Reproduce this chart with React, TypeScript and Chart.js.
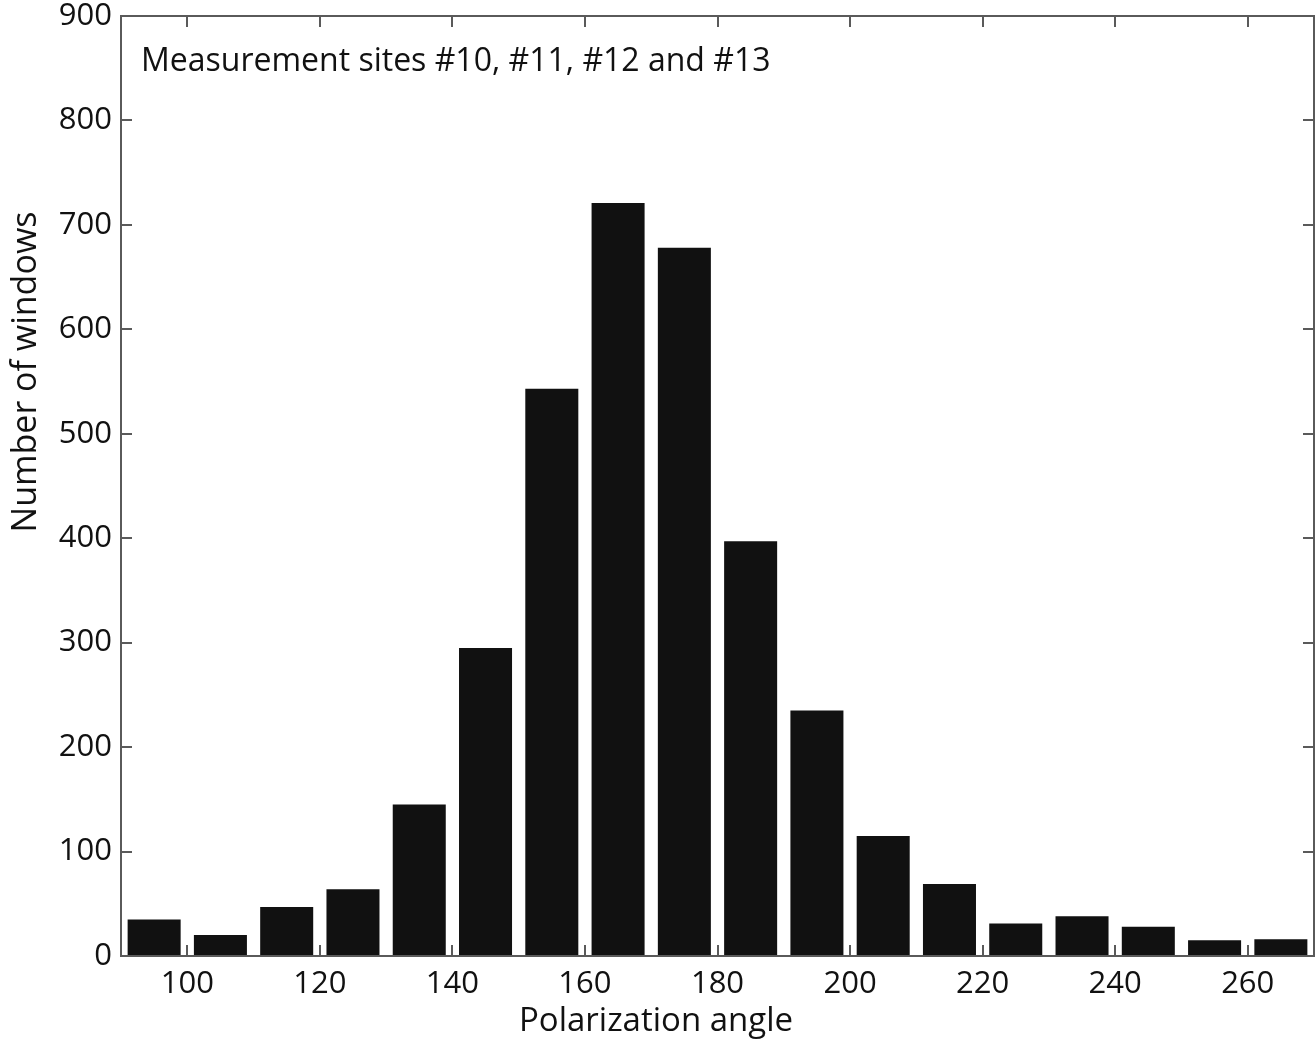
import React, { useEffect, useRef } from "react";
import { Chart, registerables } from "chart.js";

Chart.register(...registerables);

// Histogram bin centres (degrees) and counts
const binCenters = [95, 105, 115, 125, 135, 145, 155, 165, 175, 185, 195, 205, 215, 225, 235, 245, 255, 265];
const counts = [35, 20, 47, 64, 145, 295, 543, 721, 678, 397, 235, 115, 69, 31, 38, 28, 15, 16];

const xTicks = [100, 120, 140, 160, 180, 200, 220, 240, 260];
const yTicks = [0, 100, 200, 300, 400, 500, 600, 700, 800, 900];

const annotation = "Measurement sites #10, #11, #12 and #13";
const xTitle = "Polarization angle";
const yTitle = "Number of windows";

const FONT = "'Open Sans', sans-serif";
const AXIS_COLOR = "#5a5a5a";

const W = 1316;
const H = 1041;

// Box frame with inward ticks on all four sides, the in-plot note and axis titles
const framePlugin = {
  id: "frame",
  afterDraw(chart: any) {
    const { ctx, chartArea: a, scales } = chart;
    const len = 11;
    ctx.save();
    ctx.strokeStyle = AXIS_COLOR;
    ctx.lineWidth = 2;
    ctx.beginPath();
    xTicks.forEach((v) => {
      const px = Math.round(scales.x.getPixelForValue(v));
      ctx.moveTo(px, a.bottom);
      ctx.lineTo(px, a.bottom - len);
      ctx.moveTo(px, a.top);
      ctx.lineTo(px, a.top + len);
    });
    yTicks.forEach((v) => {
      const py = Math.round(scales.y.getPixelForValue(v));
      ctx.moveTo(a.left, py);
      ctx.lineTo(a.left + len, py);
      ctx.moveTo(a.right, py);
      ctx.lineTo(a.right - len, py);
    });
    ctx.stroke();
    ctx.strokeRect(a.left, a.top, a.right - a.left, a.bottom - a.top);

    ctx.fillStyle = "#111";
    ctx.font = `32px ${FONT}`;
    ctx.textBaseline = "middle";
    ctx.textAlign = "left";
    ctx.fillText(annotation, a.left + 20, a.top + 46);

    // x-axis title, centred on the figure
    ctx.font = `33px ${FONT}`;
    ctx.textAlign = "center";
    ctx.textBaseline = "alphabetic";
    ctx.fillText(xTitle, W / 2 - 2, 1031);

    // y-axis title, rotated
    ctx.font = `34px ${FONT}`;
    ctx.translate(36, 372);
    ctx.rotate(-Math.PI / 2);
    ctx.fillText(yTitle, 0, 0);
    ctx.restore();
  },
};

export default function App() {
  const ref = useRef<HTMLCanvasElement>(null);

  useEffect(() => {
    document.body.style.margin = "0";
    const canvas = ref.current!;
    const chart = new Chart(canvas, {
      type: "bar",
      data: {
        datasets: [
          {
            data: binCenters.map((x, i) => ({ x, y: counts[i] })),
            backgroundColor: "#111111",
            borderWidth: 0,
            barPercentage: 0.8,
            categoryPercentage: 1,
          },
        ],
      },
      options: {
        responsive: false,
        animation: false,
        layout: { padding: { top: 16, right: 2, left: 0, bottom: 0 } },
        plugins: { legend: { display: false }, tooltip: { enabled: false } },
        scales: {
          x: {
            type: "linear",
            min: 90,
            max: 270,
            offset: false,
            afterFit(scale: any) {
              scale.height = H - 956;
              scale.paddingLeft = 0;
              scale.paddingRight = 0;
            },
            afterBuildTicks(scale: any) {
              scale.ticks = xTicks.map((v) => ({ value: v }));
            },
            grid: { display: false, drawTicks: false },
            border: { display: false },
            ticks: {
              padding: 10,
              color: "#111",
              font: { family: FONT, size: 31 },
              maxRotation: 0,
            },
            title: { display: false },
          },
          y: {
            min: 0,
            max: 900,
            afterFit(scale: any) {
              scale.width = 121;
              scale.paddingTop = 0;
              scale.paddingBottom = 0;
            },
            afterBuildTicks(scale: any) {
              scale.ticks = yTicks.map((v) => ({ value: v }));
            },
            grid: { display: false, drawTicks: false },
            border: { display: false },
            ticks: {
              padding: 9,
              color: "#111",
              font: { family: FONT, size: 31 },
            },
            title: { display: false },
          },
        },
      },
      plugins: [framePlugin],
    });
    return () => chart.destroy();
  }, []);

  return (
    <div style={{ position: "absolute", left: 0, top: 0, width: W, height: H, background: "#fff" }}>
      <canvas ref={ref} width={W} height={H} />
    </div>
  );
}
